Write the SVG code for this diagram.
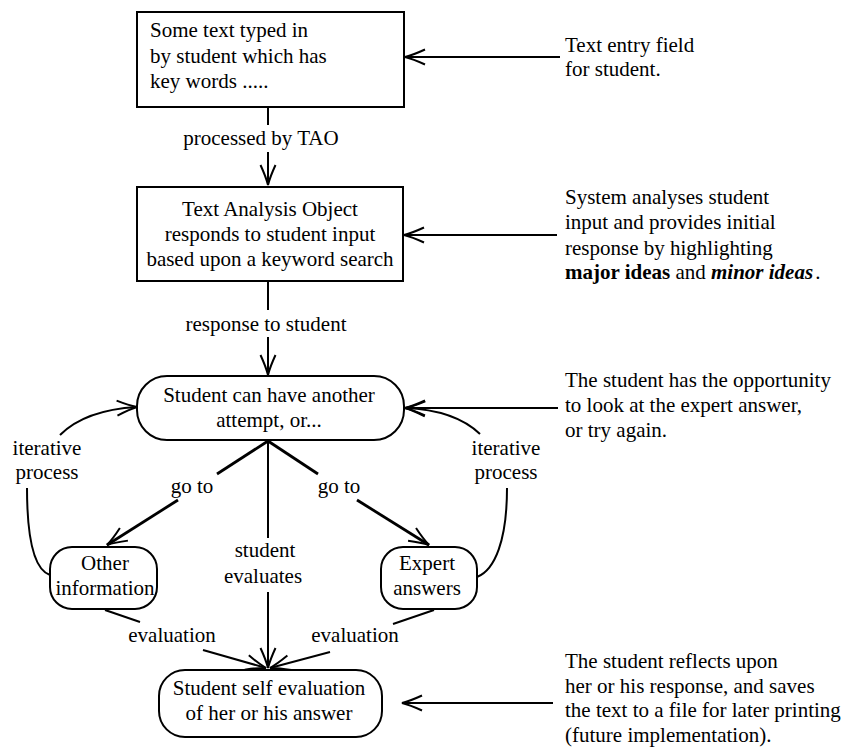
<svg xmlns="http://www.w3.org/2000/svg" width="847" height="753" viewBox="0 0 847 753">
<defs>
<marker id="ah" markerUnits="userSpaceOnUse" markerWidth="26" markerHeight="22" refX="22" refY="11" orient="auto" overflow="visible">
<path d="M2,3.5 Q14,9 22,11 Q14,13 2,18.5" fill="none" stroke="#000" stroke-width="2"/>
</marker>
</defs>
<rect width="847" height="753" fill="#fff"/>
<g id="connectors" fill="none" stroke="#000" stroke-width="2">
<line x1="560" y1="57" x2="405" y2="57" marker-end="url(#ah)"/>
<line x1="557" y1="235" x2="404" y2="235" marker-end="url(#ah)"/>
<line x1="558" y1="408" x2="405" y2="408" marker-end="url(#ah)"/>
<line x1="553" y1="703" x2="402" y2="703" marker-end="url(#ah)"/>
<line x1="268" y1="107" x2="268" y2="125"/>
<line x1="268" y1="152" x2="268" y2="185" marker-end="url(#ah)"/>
<line x1="268" y1="281" x2="268" y2="310"/>
<line x1="268" y1="337" x2="268" y2="375" marker-end="url(#ah)"/>
<line stroke-width="2.8" x1="268" y1="441" x2="217" y2="474"/>
<line stroke-width="2.8" x1="178" y1="500" x2="107" y2="545" marker-end="url(#ah)"/>
<line stroke-width="2.8" x1="268" y1="441" x2="318" y2="474"/>
<line stroke-width="2.8" x1="357" y1="500" x2="429" y2="545" marker-end="url(#ah)"/>
<line x1="268" y1="441" x2="268" y2="538"/>
<line x1="268" y1="592" x2="268" y2="668" marker-end="url(#ah)"/>
<line x1="105" y1="610" x2="140" y2="622"/>
<line x1="203" y1="650" x2="266" y2="668" marker-end="url(#ah)"/>
<line x1="434" y1="610" x2="393" y2="624"/>
<line x1="330" y1="652" x2="270" y2="668" marker-end="url(#ah)"/>
<path d="M50,575 C35,570 27,540 27,488"/>
<path d="M60,435 Q85,410 137,407" marker-end="url(#ah)"/>
<path d="M477,577 C495,570 507,540 507,488"/>
<path d="M480,434 Q455,410 405,408" marker-end="url(#ah)"/>
</g>
<g font-family="Liberation Serif" font-size="21" fill="#000">
<g id="box1">
<rect fill="#fff" stroke="#000" stroke-width="2" x="137" y="12" width="267" height="95"/>
<text x="150" y="37">Some text typed in</text>
<text x="150" y="63">by student which has</text>
<text x="150" y="88">key words .....</text>
</g>
<g id="box2" text-anchor="middle">
<rect fill="#fff" stroke="#000" stroke-width="2" x="137" y="187" width="266" height="94"/>
<text x="270" y="216">Text Analysis Object</text>
<text x="270" y="241">responds to student input</text>
<text x="270" y="266">based upon a keyword search</text>
</g>
<g id="node3" text-anchor="middle">
<rect fill="#fff" stroke="#000" stroke-width="2" x="137" y="376" width="267" height="64" rx="30" ry="30"/>
<text x="269" y="402">Student can have another</text>
<text x="269" y="427">attempt, or...</text>
</g>
<g id="other" text-anchor="middle">
<rect fill="#fff" stroke="#000" stroke-width="2" x="50" y="547" width="107" height="62" rx="22" ry="22"/>
<text x="105" y="570">Other</text>
<text x="105" y="595">information</text>
</g>
<g id="expert" text-anchor="middle">
<rect fill="#fff" stroke="#000" stroke-width="2" x="381" y="547" width="96" height="62" rx="22" ry="22"/>
<text x="427" y="570">Expert</text>
<text x="427" y="595">answers</text>
</g>
<g id="selfeval" text-anchor="middle">
<rect fill="#fff" stroke="#000" stroke-width="2" x="159" y="670" width="223" height="67" rx="26" ry="26"/>
<text x="269" y="695">Student self evaluation</text>
<text x="269" y="720">of her or his answer</text>
</g>
<g id="labels" text-anchor="middle">
<text x="261" y="145">processed by TAO</text>
<text x="266" y="331">response to student</text>
<text x="47" y="455">iterative</text>
<text x="47" y="479">process</text>
<text x="506" y="455">iterative</text>
<text x="506" y="479">process</text>
<text x="192" y="493">go to</text>
<text x="339" y="493">go to</text>
<text x="265" y="557">student</text>
<text x="263" y="583">evaluates</text>
<text x="172" y="642">evaluation</text>
<text x="355" y="642">evaluation</text>
</g>
<g id="notes">
<text x="565" y="52">Text entry field</text>
<text x="565" y="76">for student.</text>
<text x="565" y="204">System analyses student</text>
<text x="565" y="229">input and provides initial</text>
<text x="565" y="255">response by highlighting</text>
<text x="565" y="279"><tspan font-weight="bold">major ideas</tspan> and <tspan font-weight="bold" font-style="italic">minor ideas</tspan><tspan dx="2">.</tspan></text>
<text x="565" y="387">The student has the opportunity</text>
<text x="565" y="412">to look at the expert answer,</text>
<text x="565" y="437">or try again.</text>
<text x="565" y="668">The student reflects upon</text>
<text x="565" y="693">her or his response, and saves</text>
<text x="565" y="717">the text to a file for later printing</text>
<text x="565" y="742">(future implementation).</text>
</g>
</g>
</svg>
